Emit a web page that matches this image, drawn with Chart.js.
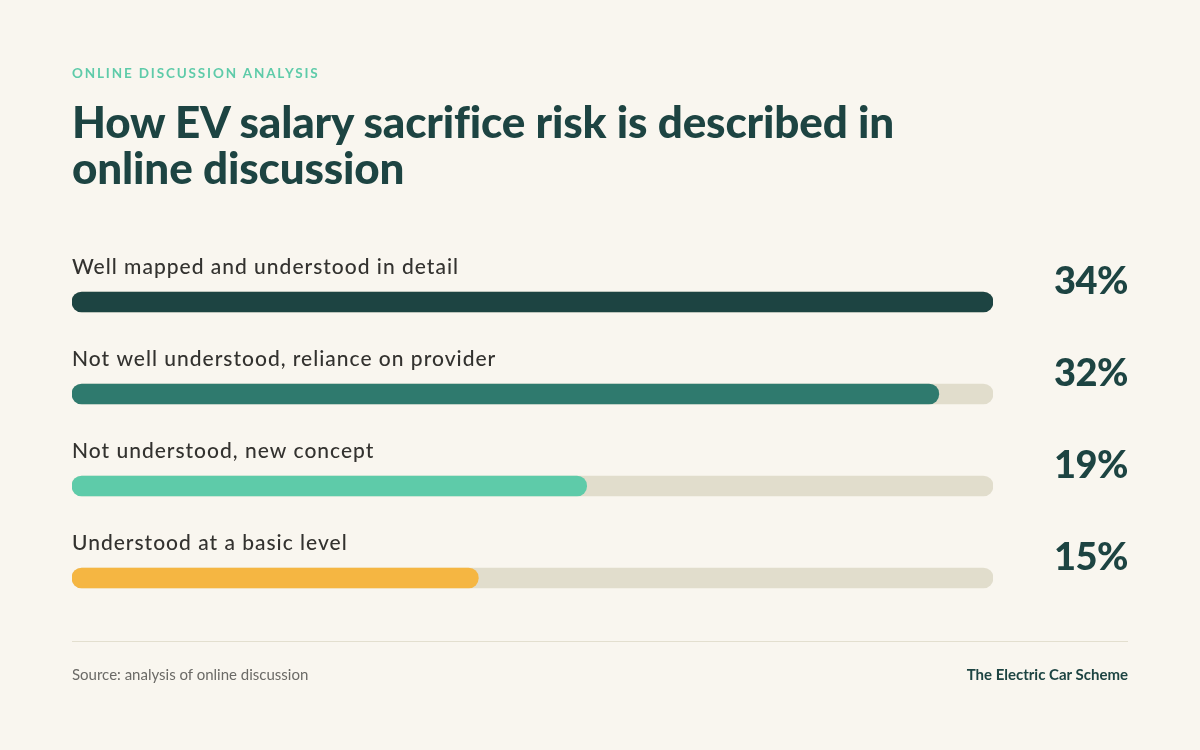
<!DOCTYPE html>
<html>
<head>
<meta charset="utf-8">
<script src="https://cdn.jsdelivr.net/npm/chart.js@4/dist/chart.umd.min.js"></script>
<style>
  html, body { margin: 0; padding: 0; background: #f9f6ef; }
  #wrap { position: relative; width: 1200px; height: 750px; overflow: hidden; font-family: Lato, "Open Sans", sans-serif; }
  #eyebrow { position: absolute; left: 72px; top: 65px; font-size: 13.5px; font-weight: 700; letter-spacing: 1.85px; color: #5ecba9; }
  #title { position: absolute; left: 72px; top: 98px; width: 900px; font-size: 44px; font-weight: 900; line-height: 46px; color: #1d4442; letter-spacing: -0.15px; }
  #rule { position: absolute; left: 72px; top: 641px; width: 1056px; height: 1px; background: #e3dfcf; }
  #source { position: absolute; left: 72px; top: 665px; font-size: 15px; color: #6b6a66; }
  #brand { position: absolute; right: 72px; top: 665px; font-size: 15px; font-weight: 700; color: #1d4442; }
  canvas { position: absolute; left: 0; top: 0; }
</style>
</head>
<body>
<div id="wrap">
  <canvas id="riskChart" width="1200" height="750"></canvas>
  <div id="eyebrow">ONLINE DISCUSSION ANALYSIS</div>
  <div id="title">How EV salary sacrifice risk is described in online discussion</div>
  <div id="rule"></div>
  <div id="source">Source: analysis of online discussion</div>
  <div id="brand">The Electric Car Scheme</div>
</div>
<script>
const categories = [
  "Well mapped and understood in detail",
  "Not well understood, reliance on provider",
  "Not understood, new concept",
  "Understood at a basic level",
];
const shares = [34, 32, 19, 15];
const barColors = ["#1d4442", "#2f7a6e", "#5ecba9", "#f5b642"];
const trackMax = 34;

// labels above each bar + percentages at the right
const rowText = {
  id: "rowText",
  afterDatasetsDraw(chart) {
    const c = chart.ctx;
    const bars = chart.getDatasetMeta(1).data;
    c.save();
    bars.forEach((bar, i) => {
      const top = bar.y - bar.height / 2;
      c.fillStyle = "#33322f";
      c.font = "500 21px Lato, sans-serif";
      c.letterSpacing = "1px";
      c.textAlign = "left";
      c.textBaseline = "alphabetic";
      c.fillText(categories[i], chart.chartArea.left, top - 18);
      c.fillStyle = "#1d4442";
      c.font = "900 38px Lato, sans-serif";
      c.letterSpacing = "-0.5px";
      c.textAlign = "right";
      c.textBaseline = "middle";
      c.fillText(shares[i] + "%", 1128, bar.y - 20);
    });
    c.restore();
  },
};

new Chart(document.getElementById("riskChart").getContext("2d"), {
  type: "bar",
  data: {
    labels: categories,
    datasets: [
      {
        data: categories.map(() => trackMax),
        backgroundColor: "#e1ddcc",
        borderRadius: 10,
        borderSkipped: false,
        barThickness: 20,
        grouped: false,
        order: 2,
      },
      {
        data: shares,
        backgroundColor: barColors,
        borderRadius: 10,
        borderSkipped: false,
        barThickness: 20,
        grouped: false,
        order: 1,
      },
    ],
  },
  options: {
    indexAxis: "y",
    responsive: false,
    animation: false,
    layout: { padding: { left: 72, right: 207, top: 256, bottom: 126 } },
    plugins: { legend: { display: false }, tooltip: { enabled: false } },
    scales: {
      x: { min: 0, max: trackMax, display: false },
      y: { display: false, grid: { display: false } },
    },
  },
  plugins: [rowText],
});
</script>
</body>
</html>
